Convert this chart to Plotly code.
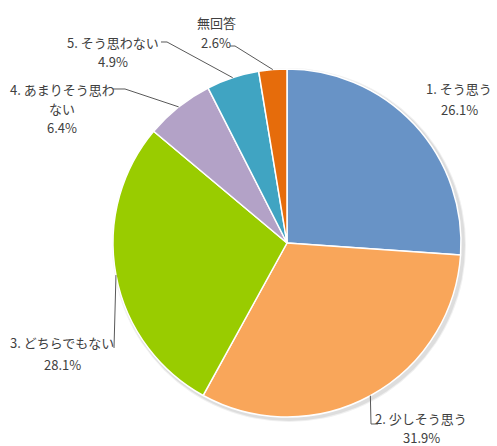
import math
import plotly.graph_objects as go

# ---- data ----
categories = ["1. そう思う", "2. 少しそう思う", "3. どちらでもない", "4. あまりそう思わない", "5. そう思わない", "無回答"]
values = [26.1, 31.9, 28.1, 6.4, 4.9, 2.6]
colors = ["#6893c6", "#f9a65a", "#99cc00", "#b3a2c7", "#40a4c2", "#e66c0b"]

# label text lines (as displayed)
label_lines = [
    ["1. そう思う", "26.1%"],
    ["2. 少しそう思う", "31.9%"],
    ["3. どちらでもない", "28.1%"],
    ["4. あまりそう思わ", "ない", "6.4%"],
    ["5. そう思わない", "4.9%"],
    ["無回答", "2.6%"],
]

# ---- layout (pixels) ----
W, H = 497, 446
cx, cy, R = 287, 243, 174

# label line positions: (x center, [y per line]) in pixels
label_pos = [
    (459, [88, 109]),
    (421, [418, 437]),
    (62, [342, 364]),
    (62, [89, 108, 128]),
    (113, [43, 61]),
    (216, [22, 43]),
]
# leader-line elbows (pixels) ; None = no leader
elbows = [
    None,
    [(371, 424), (378, 424)],
    [(114, 348)],
    [(125, 89), (113, 89)],
    [(167, 42), (161, 42)],
    [(235, 46), (230, 46)],
]

def px(x):
    return x / W

def py(y):
    return 1 - y / H

fig = go.Figure()
# soft shadow behind the pie
for d, a in [(3, 0.06), (2, 0.08)]:
    fig.add_trace(go.Pie(
        values=[1], sort=False, marker=dict(colors=[f"rgba(0,0,0,{a})"], line=dict(width=0)),
        textinfo="none", hoverinfo="skip", showlegend=False,
        domain=dict(x=[px(cx - R - d + 2), px(cx + R + d + 2)], y=[py(cy + R + d + 2), py(cy - R - d + 2)]),
    ))
fig.add_trace(go.Pie(
    labels=categories, values=values, sort=False, direction="clockwise", rotation=0,
    marker=dict(colors=colors, line=dict(color="white", width=1.5)),
    textinfo="none", hoverinfo="label+percent",
    domain=dict(x=[px(cx - R), px(cx + R)], y=[py(cy + R), py(cy - R)]),
    showlegend=False,
))

font = dict(family="Noto Sans CJK JP, sans-serif", size=13, color="#404040")
annotations = []
for (x, ys), lines in zip(label_pos, label_lines):
    for y, t in zip(ys, lines):
        annotations.append(dict(x=px(x), y=py(y), xref="paper", yref="paper", text=t,
                                showarrow=False, xanchor="center", yanchor="middle", font=font))

shapes = []
total = sum(values)
cum = 0
for v, el in zip(values, elbows):
    mid = (cum + v / 2) / total * 2 * math.pi
    cum += v
    if el is None:
        continue
    ex = cx + R * math.sin(mid)
    ey = cy - R * math.cos(mid)
    pts = [(ex, ey)] + el
    path = "M " + " L ".join(f"{px(a):.5f},{py(b):.5f}" for a, b in pts)
    shapes.append(dict(type="path", xref="paper", yref="paper", path=path,
                       line=dict(color="#595959", width=1)))

fig.update_layout(
    width=W, height=H, margin=dict(l=0, r=0, t=0, b=0),
    paper_bgcolor="white", plot_bgcolor="white",
    annotations=annotations, shapes=shapes,
)
fig.write_html("out.html", config={"displayModeBar": False},
               post_script="document.body.style.margin='0';document.body.style.overflow='hidden';")
